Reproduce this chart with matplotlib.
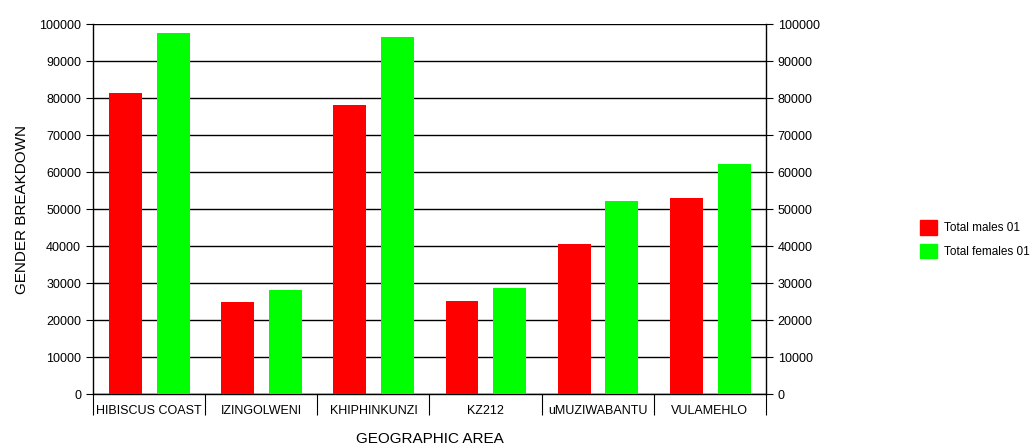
import numpy as np
import matplotlib.pyplot as plt
from matplotlib.patches import Patch

plt.rcParams["font.family"] = ["Liberation Sans Narrow", "Liberation Sans", "DejaVu Sans"]

# ===================== DATA =====================
areas = ["HIBISCUS COAST", "IZINGOLWENI", "KHIPHINKUNZI", "KZ212", "uMUZIWABANTU", "VULAMEHLO"]
males = [81400, 24800, 78100, 25100, 40500, 52900]
females = [97500, 28100, 96500, 28600, 52100, 62200]
y_ticks = list(range(0, 100001, 10000))

# ===================== PLOT =====================
fig = plt.figure(figsize=(10.34, 4.48), dpi=100)
ax = fig.add_axes([0.0899, 0.1205, 0.6509, 0.8259])

x = np.arange(len(areas))
w = 0.294
ax.bar(x - 0.21, males, w, color="#ff0000", zorder=3, label="Total males 01")
ax.bar(x + 0.216, females, w, color="#00ff00", zorder=3, label="Total females 01")

ax.set_xlim(-0.5, len(areas) - 0.5)
ax.set_ylim(0, 100000)
ax.set_yticks(y_ticks)
ax.yaxis.grid(True, color="black", linewidth=1.0, zorder=1)
ax.set_axisbelow(True)

ax.set_xticks(x)
ax.set_xticklabels(areas, fontsize=9)
ax.set_xticks(np.arange(-0.5, len(areas)), minor=True)
ax.tick_params(axis="x", which="major", length=0, pad=8)
ax.tick_params(axis="x", which="minor", length=15, width=0.8, direction="out")
ax.tick_params(axis="y", labelsize=9, length=5, width=0.8, direction="out",
               right=True, labelright=True)

for side in ["left", "right", "bottom"]:
    ax.spines[side].set_linewidth(1.0)
ax.spines["top"].set_visible(False)

ax.set_xlabel("GEOGRAPHIC AREA", fontsize=11, labelpad=9)
ax.set_ylabel("GENDER BREAKDOWN", fontsize=11, labelpad=7)

handles = [Patch(color="#ff0000", label="Total males 01"),
           Patch(color="#00ff00", label="Total females 01")]
fig.legend(handles=handles, loc="center left", bbox_to_anchor=(0.879, 0.466),
           frameon=False, fontsize=8.5, handlelength=1.5, handleheight=1.5,
           handletextpad=0.6, labelspacing=0.75)

fig.savefig("out.png", dpi=100)
